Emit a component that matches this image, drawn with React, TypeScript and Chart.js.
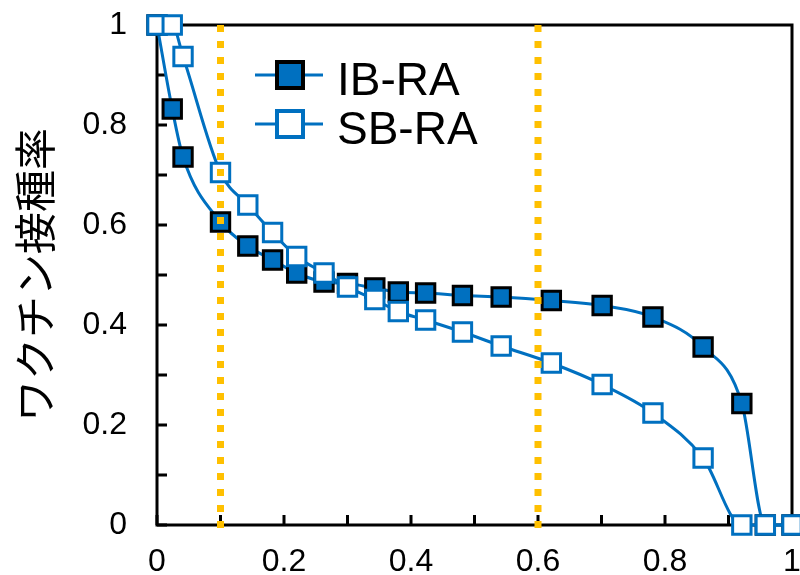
import React, { useEffect, useRef } from "react";
import { Chart, registerables } from "chart.js";

Chart.register(...registerables);

// ---- data ----
const xValues = [0, 0.024, 0.041, 0.1, 0.143, 0.182, 0.22, 0.263, 0.3, 0.343, 0.38, 0.423, 0.481, 0.542, 0.621, 0.701, 0.781, 0.86, 0.921, 0.958, 1.0];
const ibRa = [1, 0.832, 0.736, 0.606, 0.558, 0.53, 0.504, 0.486, 0.483, 0.474, 0.466, 0.464, 0.459, 0.456, 0.449, 0.439, 0.416, 0.356, 0.243, 0, 0];
const sbRa = [1, 1, 0.937, 0.705, 0.64, 0.585, 0.537, 0.504, 0.476, 0.451, 0.427, 0.41, 0.386, 0.358, 0.324, 0.281, 0.224, 0.134, 0, 0, 0];
const seriesNames = ["IB-RA", "SB-RA"];
const xTickValues = [0, 0.2, 0.4, 0.6, 0.8, 1];
const xTickLabels = ["0", "0.2", "0.4", "0.6", "0.8", "1"];
const yTickValues = [0, 0.2, 0.4, 0.6, 0.8, 1];
const yTickLabels = ["0", "0.2", "0.4", "0.6", "0.8", "1"];
const minorTickValues = [0, 0.1, 0.2, 0.3, 0.4, 0.5, 0.6, 0.7, 0.8, 0.9, 1];
const guideLines = [0.1, 0.6];
const yTitle = "ワクチン接種率";

const BLUE = "#0070C0";
const GOLD = "#FFC000";
const FONT = "'Liberation Sans', Arial, sans-serif";

const framePlugin = {
  id: "frameTicks",
  beforeDatasetsDraw(chart: any) {
    const { ctx, chartArea: a, scales } = chart;
    ctx.save();
    ctx.strokeStyle = "#000";
    ctx.lineWidth = 3;
    ctx.lineCap = "butt";
    ctx.beginPath();
    for (const v of minorTickValues) {
      const px = scales.x.getPixelForValue(v);
      ctx.moveTo(px, a.bottom);
      ctx.lineTo(px, a.bottom - 10);
      const py = scales.y.getPixelForValue(v);
      ctx.moveTo(a.left, py);
      ctx.lineTo(a.left + 10, py);
    }
    ctx.stroke();
    ctx.beginPath();
    ctx.rect(a.left, a.top, a.right - a.left, a.bottom - a.top);
    ctx.stroke();
    ctx.restore();
  },
  afterDatasetsDraw(chart: any) {
    const { ctx, chartArea: a, scales } = chart;
    ctx.save();
    ctx.strokeStyle = GOLD;
    ctx.lineWidth = 7;
    ctx.lineCap = "butt";
    ctx.setLineDash([7, 9]);
    for (const v of guideLines) {
      const px = scales.x.getPixelForValue(v);
      ctx.beginPath();
      ctx.moveTo(px, a.top);
      ctx.lineTo(px, a.bottom + 3);
      ctx.stroke();
    }
    ctx.restore();
  },
  afterDraw(chart: any) {
    const { ctx } = chart;
    ctx.save();
    const rows = [
      { name: seriesNames[0], y: 75, fill: BLUE, stroke: "#000" },
      { name: seriesNames[1], y: 124, fill: "#fff", stroke: BLUE },
    ];
    for (const r of rows) {
      ctx.strokeStyle = BLUE;
      ctx.lineWidth = 3;
      ctx.beginPath();
      ctx.moveTo(255, r.y);
      ctx.lineTo(323, r.y);
      ctx.stroke();
      ctx.fillStyle = r.fill;
      ctx.fillRect(290 - 13, r.y - 13, 26, 26);
      ctx.strokeStyle = r.stroke;
      ctx.lineWidth = 4;
      ctx.strokeRect(290 - 13, r.y - 13, 26, 26);
      ctx.fillStyle = "#000";
      ctx.font = `46px ${FONT}`;
      ctx.textBaseline = "alphabetic";
      ctx.textAlign = "left";
      ctx.fillText(r.name, 337, r.y + 20);
    }
    ctx.restore();
  },
};

const zeroPad = (s: any) => {
  s.paddingTop = 0;
  s.paddingBottom = 0;
  s.paddingLeft = 0;
  s.paddingRight = 0;
};

export default function App() {
  const ref = useRef<HTMLCanvasElement>(null);
  useEffect(() => {
    document.body.style.margin = "0";
    const ib = xValues.map((x, i) => ({ x, y: ibRa[i] }));
    const sb = xValues.map((x, i) => ({ x, y: sbRa[i] }));
    const chart = new Chart(ref.current as HTMLCanvasElement, {
      type: "line",
      data: {
        datasets: [
          {
            label: seriesNames[1],
            data: sb,
            borderColor: BLUE,
            borderWidth: 3,
            backgroundColor: "#fff",
            pointStyle: "rect",
            pointRadius: 13,
            pointBorderWidth: 3,
            pointBorderColor: BLUE,
            pointBackgroundColor: "#fff",
            cubicInterpolationMode: "monotone",
            clip: false,
          },
          {
            label: seriesNames[0],
            data: ib,
            borderColor: BLUE,
            borderWidth: 3,
            backgroundColor: BLUE,
            pointStyle: "rect",
            pointRadius: 13,
            pointBorderWidth: 3,
            pointBorderColor: "#000",
            pointBackgroundColor: BLUE,
            cubicInterpolationMode: "monotone",
            clip: false,
          },
        ],
      },
      options: {
        responsive: false,
        animation: false,
        layout: { autoPadding: false, padding: { left: 0, top: 25, right: 8, bottom: 0 } },
        plugins: { legend: { display: false }, tooltip: { enabled: false } },
        scales: {
          x: {
            type: "linear",
            min: 0,
            max: 1,
            grid: { display: false, drawTicks: false },
            border: { display: false },
            afterBuildTicks: (s: any) => {
              s.ticks = xTickValues.map((v) => ({ value: v }));
            },
            afterFit: (s: any) => {
              s.height = 50;
              zeroPad(s);
            },
            ticks: {
              padding: 18,
              maxRotation: 0,
              autoSkip: false,
              color: "#000",
              font: { family: FONT, size: 32 },
              callback: (_v: any, i: number) => xTickLabels[i],
            },
          },
          y: {
            type: "linear",
            min: 0,
            max: 1,
            grid: { display: false, drawTicks: false },
            border: { display: false },
            afterBuildTicks: (s: any) => {
              s.ticks = yTickValues.map((v) => ({ value: v }));
            },
            afterFit: (s: any) => {
              s.width = 157;
              zeroPad(s);
            },
            ticks: {
              padding: 30,
              autoSkip: false,
              color: "#000",
              font: { family: FONT, size: 32 },
              callback: (_v: any, i: number) => yTickLabels[i],
            },
            title: {
              display: true,
              text: yTitle,
              color: "#000",
              padding: { top: 10, bottom: 0 },
              font: { family: "'Noto Sans CJK JP', sans-serif", size: 42 },
            },
          },
        },
      },
      plugins: [framePlugin],
    } as any);
    return () => chart.destroy();
  }, []);
  return (
    <div style={{ position: "absolute", left: 0, top: 0, width: 800, height: 575 }}>
      <canvas ref={ref} width={800} height={575} style={{ display: "block" }} />
    </div>
  );
}
